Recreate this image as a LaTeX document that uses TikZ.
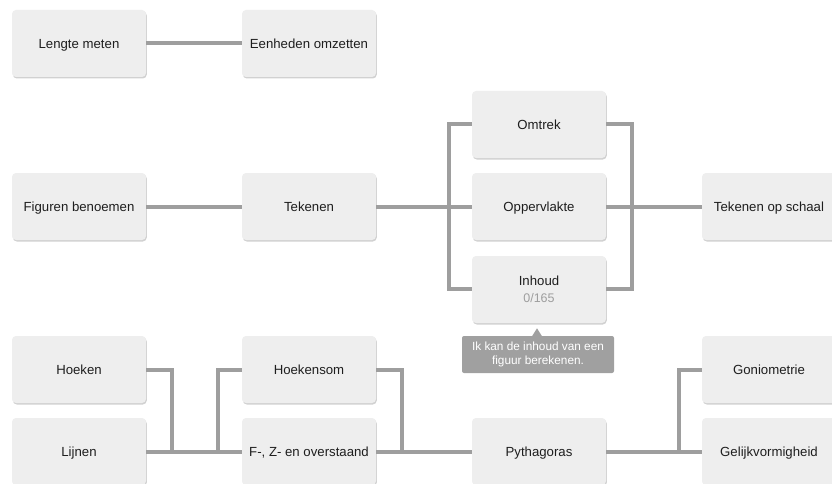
\documentclass[tikz,border=0pt]{standalone}
\usepackage{fontspec}
\setmainfont{Liberation Sans}
\usetikzlibrary{shadows,calc}
\definecolor{boxfill}{HTML}{EEEEEE}
\definecolor{linegray}{HTML}{9E9E9E}
\definecolor{tipgray}{HTML}{A0A0A0}
\definecolor{txt}{HTML}{1E1E1E}
\begin{document}
\begin{tikzpicture}[x=1pt,y=-1pt,
  box/.style={draw=none, fill=boxfill, rounded corners=4pt, minimum width=134pt,
    minimum height=67pt, inner sep=0pt, align=center,
    font=\fontsize{13.2}{18}\selectfont, text=txt,
    drop shadow={shadow xshift=0.8pt, shadow yshift=-1.5pt, opacity=0.18, fill=black}},
  oneline/.style={text height=11.5pt, text depth=2pt},
  conn/.style={draw=linegray, line width=4pt},
  tipbox/.style={fill=tipgray, rounded corners=2pt, minimum width=152pt, minimum height=37pt,
    inner sep=0pt, align=center, text=white, font=\fontsize{11.8}{14}\selectfont}]
\useasboundingbox (0,0) rectangle (832,484);
\clip (0,0) rectangle (832,484);
\fill[white] (0,0) rectangle (832,484);
% free connector ends
\coordinate (j1) at (172,451.5);
\coordinate (j2) at (402,451.5);
% nodes
\node[box,oneline] (lm) at (79,43.5) {Lengte meten};
\node[box,oneline] (eo) at (309,43.5) {Eenheden omzetten};
\node[box,oneline] (fb) at (79,206.5) {Figuren benoemen};
\node[box,oneline] (tk) at (309,206.5) {Tekenen};
\node[box,oneline] (om) at (539,124.5) {Omtrek};
\node[box,oneline] (op) at (539,206.5) {Oppervlakte};
\node[box] (ih) at (539,289.5) {Inhoud\\[-1pt]{\color{linegray}\fontsize{12.5}{14}\selectfont 0/165}};
\node[box,oneline] (ts) at (769,206.5) {Tekenen op schaal};
\node[box,oneline] (hk) at (79,369.5) {Hoeken};
\node[box,oneline] (lj) at (79,451.5) {Lijnen};
\node[box,oneline] (hs) at (309,369.5) {Hoekensom};
\node[box,oneline] (fz) at (309,451.5) {F-, Z- en overstaand};
\node[box,oneline] (py) at (539,451.5) {Pythagoras};
\node[box,oneline] (go) at (769,369.5) {Goniometrie};
\node[box,oneline] (gv) at (769,451.5) {Gelijkvormigheid};
% connectors
\draw[conn] (lm.east) -- (eo.west);
\draw[conn] (fb.east) -- (tk.west);
\draw[conn] (tk.east) -- (op.west);
\draw[conn] (om.west) -- ++(-23,0) |- ([yshift=1pt]ih.west);
\draw[conn] (om.east) -- ++(26,0) |- ([yshift=1pt]ih.east);
\draw[conn] (op.east) -- (ts.west);
\draw[conn] (hk.east) -| (j1);
\draw[conn] (lj.east) -- (fz.west);
\draw[conn] (hs.west) -- ++(-24,0) |- (fz.west);
\draw[conn] (hs.east) -| (j2);
\draw[conn] (fz.east) -- (py.west);
\draw[conn] (py.east) -- (gv.west);
\draw[conn] (go.west) -- ++(-23,0) |- (gv.west);
% tooltip
\node[tipbox] (tt) at (538,354.5) {Ik kan de inhoud van een\\figuur berekenen.};
\fill[tipgray] ($(tt.north)+(-6,0.5)$) -- ($(tt.north)+(-1,-7.5)$) -- ($(tt.north)+(4,0.5)$) -- cycle;
\end{tikzpicture}
\end{document}
